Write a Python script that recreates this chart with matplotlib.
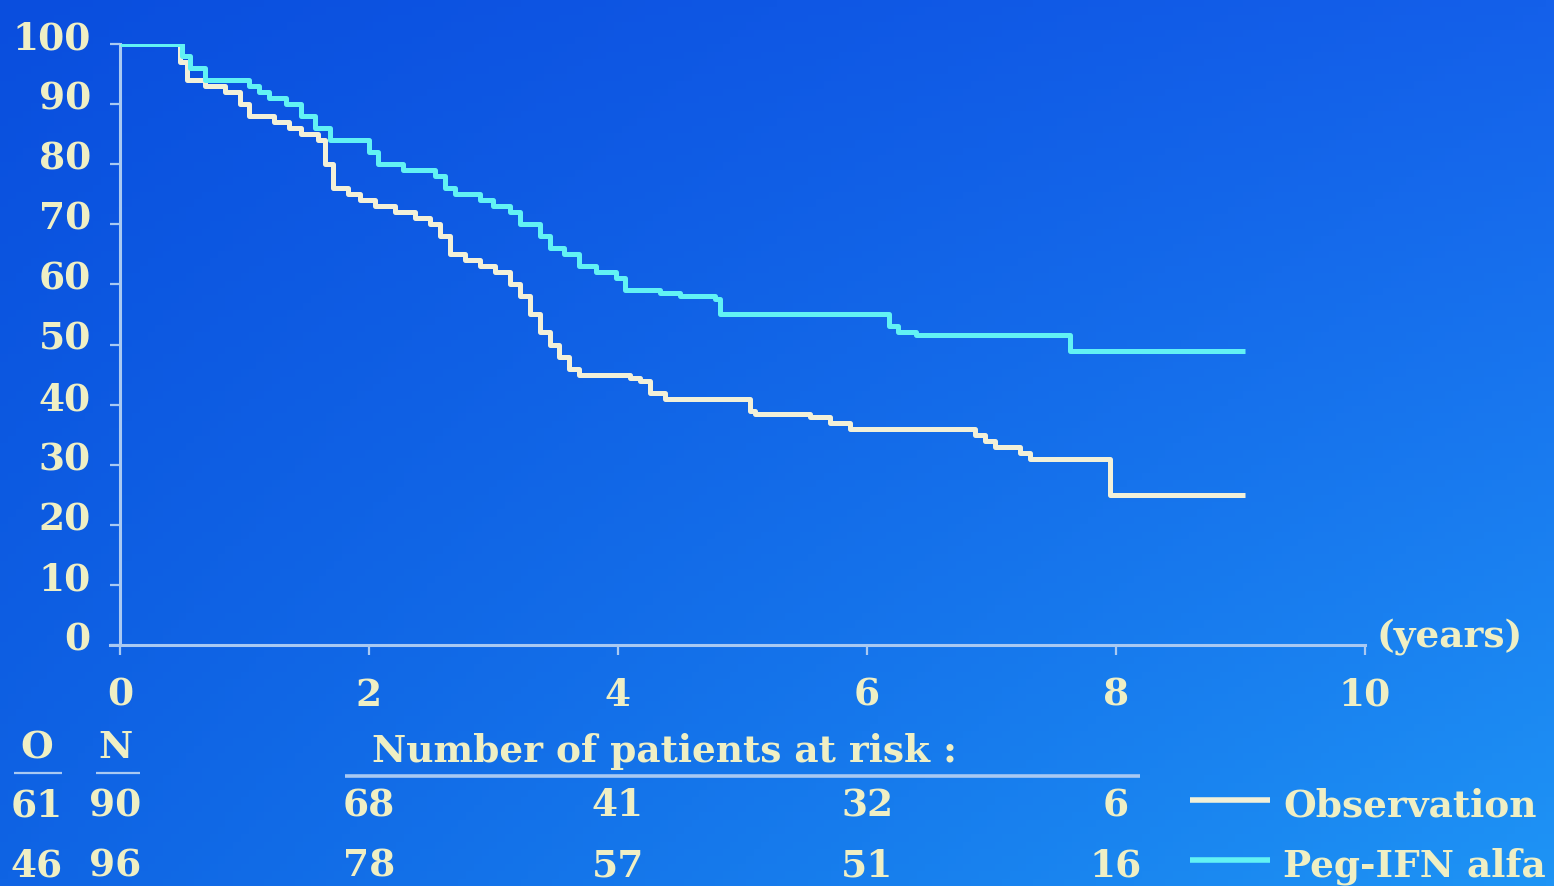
import numpy as np
import matplotlib
matplotlib.use("Agg")
import matplotlib.pyplot as plt
from matplotlib.transforms import ScaledTranslation

# ---------------- data ----------------
obs_t = [0, 0.48, 0.54, 0.68, 0.84, 0.96, 1.04, 1.24, 1.36, 1.45, 1.59, 1.65, 1.71, 1.83, 1.93,
         2.05, 2.21, 2.37, 2.49, 2.57, 2.65, 2.77, 2.89, 3.01, 3.13, 3.21, 3.29, 3.37, 3.45, 3.53,
         3.61, 3.69, 4.10, 4.18, 4.26, 4.38, 5.06, 5.10, 5.54, 5.70, 5.86, 6.87, 6.95, 7.03, 7.23,
         7.31, 7.95, 9.04]
obs_s = [100, 97, 94, 93, 92, 90, 88, 87, 86, 85, 84, 80, 76, 75, 74,
         73, 72, 71, 70, 68, 65, 64, 63, 62, 60, 58, 55, 52, 50, 48,
         46, 45, 44.5, 44, 42, 41, 39, 38.5, 38, 37, 36, 35, 34, 33, 32,
         31, 25, 25]

peg_t = [0, 0.50, 0.56, 0.68, 1.04, 1.12, 1.20, 1.33, 1.45, 1.57, 1.69, 2.00, 2.07, 2.27, 2.53,
         2.61, 2.69, 2.89, 3.00, 3.13, 3.21, 3.37, 3.45, 3.57, 3.69, 3.82, 3.98, 4.06, 4.34, 4.50,
         4.78, 4.82, 6.18, 6.25, 6.39, 7.63, 9.04]
peg_s = [100, 98, 96, 94, 93, 92, 91, 90, 88, 86, 84, 82, 80, 79, 78,
         76, 75, 74, 73, 72, 70, 68, 66, 65, 63, 62, 61, 59, 58.5, 58,
         57.5, 55, 53, 52, 51.5, 49, 49]

x_ticks = [0, 2, 4, 6, 8, 10]
y_ticks = [0, 10, 20, 30, 40, 50, 60, 70, 80, 90, 100]

risk_times = [2, 4, 6, 8]
obs_O, obs_N = 61, 90
peg_O, peg_N = 46, 96
obs_risk = [68, 41, 32, 6]
peg_risk = [78, 57, 51, 16]
group_labels = ["Observation", "Peg-IFN alfa"]

# ---------------- style ----------------
W, H = 1554, 886
TXT = "#efefc4"
OBS_C = "#f2f0d8"
PEG_C = "#62f2f4"
AX_C = "#a9c9f2"
FONT = "DejaVu Serif"
FS = 27

fig = plt.figure(figsize=(W / 100, H / 100), dpi=100)

# background gradient
bg = fig.add_axes([0, 0, 1, 1], zorder=-10)
xx, yy = np.meshgrid(np.linspace(0, 1, 200), np.linspace(0, 1, 120))
c0 = np.array([10, 78, 222]) / 255.0
cx = np.array([10, 18, 12]) / 255.0
cy = np.array([5, 22, 6]) / 255.0
cxy = np.array([5, 30, 5]) / 255.0
img = c0[None, None, :] + xx[..., None] * cx[None, None, :] + yy[..., None] * cy[None, None, :] \
      + (xx * yy)[..., None] * cxy[None, None, :]
img = np.clip(img, 0, 1)
bg.imshow(img, aspect="auto", extent=[0, 1, 0, 1], origin="upper")
bg.set_axis_off()

def px_to_fig(x, y):
    return x / W, 1 - y / H

left, right = 120, 1365
top, bottom = 44, 645
ax = fig.add_axes([left / W, 1 - bottom / H, (right - left) / W, (bottom - top) / H])
ax.patch.set_alpha(0)
ax.set_xlim(0, 10)
ax.set_ylim(0, 100)

ax.step(obs_t, obs_s, where="post", color=OBS_C, lw=3.6, solid_capstyle="butt", zorder=3)
ax.step(peg_t, peg_s, where="post", color=PEG_C, lw=3.6, solid_capstyle="butt", zorder=4)

for s in ["top", "right"]:
    ax.spines[s].set_visible(False)
for s in ["left", "bottom"]:
    ax.spines[s].set_color(AX_C)
    ax.spines[s].set_linewidth(2.2)
ax.spines["bottom"].set_bounds(-0.08, 10)
ax.spines["left"].set_bounds(0, 100)
ax.spines["bottom"].set_clip_on(False)

ax.set_xticks(x_ticks)
ax.set_yticks(y_ticks)
ax.set_xticklabels([str(v) for v in x_ticks])
ax.set_yticklabels([str(v) for v in y_ticks])
ax.tick_params(axis="both", colors=AX_C, width=1.6, length=7)
ax.tick_params(axis="x", pad=16)
ax.tick_params(axis="y", pad=14)
for lab in ax.get_xticklabels() + ax.get_yticklabels():
    lab.set_fontfamily(FONT)
    lab.set_fontweight("bold")
    lab.set_fontsize(FS)
    lab.set_color(TXT)
for lab in ax.get_yticklabels():
    lab.set_transform(lab.get_transform() + ScaledTranslation(0, 9 / 100, fig.dpi_scale_trans))

def ftext(x, y, s, ha="center", color=TXT, **kw):
    fx, fy = px_to_fig(x, y)
    fig.text(fx, fy, s, ha=ha, va="center", color=color, fontfamily=FONT,
             fontweight="bold", fontsize=FS, **kw)

ftext(1376, 638, "(years)", ha="left")

# risk table header
ftext(37, 748, "O")
ftext(115, 748, "N")
ftext(372, 751, "Number of patients at risk :", ha="left")

def fline(x0, x1, y, color, lw):
    fx0, fy = px_to_fig(x0, y)
    fx1, _ = px_to_fig(x1, y)
    fig.add_artist(plt.Line2D([fx0, fx1], [fy, fy], color=color, lw=lw,
                              transform=fig.transFigure, solid_capstyle="butt"))

fline(14, 62, 773, AX_C, 1.6)
fline(96, 140, 773, AX_C, 1.6)
fline(345, 1140, 776, AX_C, 2.6)

rows_y = [806, 866]
risk_rows = [obs_risk, peg_risk]
ON = [(obs_O, obs_N), (peg_O, peg_N)]
line_cols = [OBS_C, PEG_C]
for ry, rr, (o, n), lc, gl in zip(rows_y, risk_rows, ON, line_cols, group_labels):
    ftext(37, ry, str(o))
    ftext(115, ry, str(n))
    for tval, v in zip(risk_times, rr):
        xpx = left + (right - left) * tval / 10.0
        ftext(xpx, ry, str(v))
    fline(1190, 1270, ry - 6, lc, 4)
    ftext(1283, ry, gl, ha="left")

fig.savefig("out.png", dpi=100)
